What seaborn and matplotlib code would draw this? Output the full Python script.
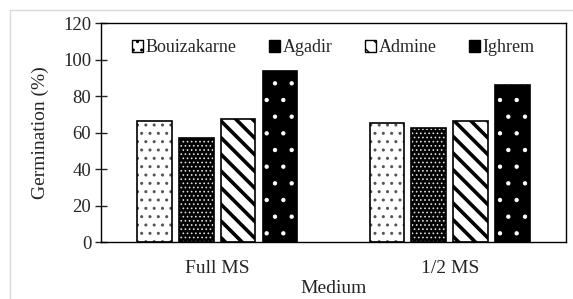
import matplotlib
matplotlib.use('Agg')
import matplotlib.pyplot as plt
import matplotlib.patches as mpatches
import seaborn as sns
import pandas as pd

media = ['Full MS', '1/2 MS']
populations = ['Bouizakarne', 'Agadir', 'Admine', 'Ighrem']
full_ms = [66.5, 57, 67.5, 93.5]
half_ms = [65, 62.5, 66.5, 86]

rows = []
for pop, f, h in zip(populations, full_ms, half_ms):
    rows.append({'Medium': 'Full MS', 'Population': pop, 'Germination': f})
    rows.append({'Medium': '1/2 MS', 'Population': pop, 'Germination': h})
df = pd.DataFrame(rows)

sns.set_style('white')
plt.rcParams['font.family'] = ['Liberation Serif', 'DejaVu Serif']
plt.rcParams['hatch.linewidth'] = 1.0

# face, hatch, hatch colour, hatch linewidth per population
styles = {
    'Bouizakarne': ('white', '..', '#555555', 1.0),
    'Agadir': ('black', '....', '#dddddd', 0.7),
    'Admine': ('white', '\\\\', 'black', 2.6),
    'Ighrem': ('black', '.', 'white', 0.7),
}

fig = plt.figure(figsize=(5.73, 2.99), dpi=100)
ax = fig.add_axes([0.176, 0.19, 0.812, 0.733])
sns.barplot(data=df, x='Medium', y='Germination', hue='Population', order=media,
            hue_order=populations, width=0.72, gap=0.17, ax=ax, legend=False,
            errorbar=None)


def style_patch(p, pop):
    face, hatch, hc, hlw = styles[pop]
    p.set_facecolor(face)
    p.set_hatch(hatch)
    p.set_edgecolor(hc)
    if hasattr(p, 'set_hatch_linewidth'):
        p.set_hatch_linewidth(hlw)


for cont, pop in zip(ax.containers, populations):
    for bar in cont:
        style_patch(bar, pop)
        bar.set_linewidth(0)
        ax.add_patch(mpatches.Rectangle((bar.get_x(), bar.get_y()), bar.get_width(),
                                        bar.get_height(), fill=False, edgecolor='black',
                                        linewidth=1.2, zorder=bar.get_zorder() + 0.1))

ax.set_ylim(0, 120)
ax.set_yticks(range(0, 121, 20))
ax.set_xlim(-0.5, 1.5)
ax.set_xticks([0, 1])
ax.set_xticklabels(media)
ax.set_xticks([-0.5, 0.5, 1.5], minor=True)
ax.tick_params(axis='x', which='major', length=0, labelsize=14, pad=13)
ax.tick_params(axis='x', which='minor', length=8, direction='inout', width=1)
ax.tick_params(axis='y', length=8, direction='inout', width=1, labelsize=13.5, left=True, pad=3)
for s in ax.spines.values():
    s.set_visible(True)
    s.set_color('black')
    s.set_linewidth(1)
ax.set_ylabel('Germination (%)', fontsize=14, labelpad=10)
ax.set_xlabel('Medium', fontsize=14, labelpad=2)

handles = []
for pop in populations:
    face, hatch, hc, hlw = styles[pop]
    h = mpatches.Patch(facecolor=face, hatch=hatch, edgecolor='black', label=pop)
    if hasattr(h, 'set_hatch_linewidth'):
        h.set_hatch_linewidth(min(hlw, 1.5))
    handles.append(h)
ax.legend(handles=handles, loc='upper center', ncol=4, frameon=False, fontsize=13,
          handlelength=0.6, handleheight=0.6, handletextpad=0.15, columnspacing=1.8,
          bbox_to_anchor=(0.5, 1.0))

fig.patches.append(mpatches.Rectangle((0.017, -0.02), 0.99, 0.987, transform=fig.transFigure,
                                      fill=False, edgecolor='#d9d9d9', linewidth=1))

fig.savefig('out.png', dpi=100)
